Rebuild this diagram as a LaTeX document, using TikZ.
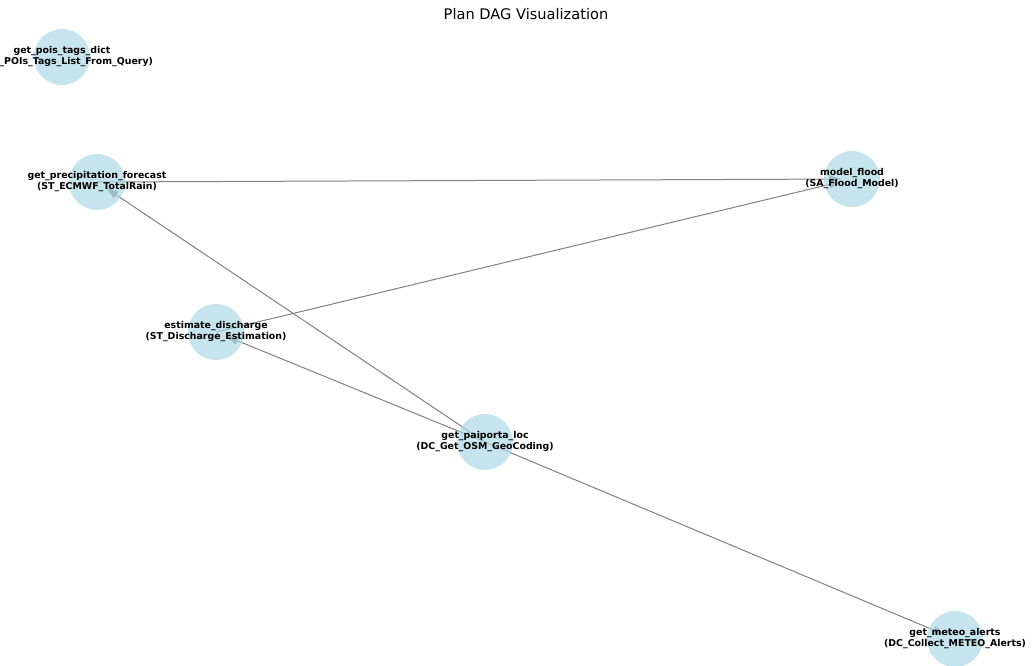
\documentclass[tikz,border=0pt]{standalone}
\usepackage{fontspec}
\setmainfont{DejaVu Sans}
\usetikzlibrary{arrows.meta}
\definecolor{nodeblue}{RGB}{173,216,230}
\definecolor{edgegray}{RGB}{128,128,128}
\tikzset{
  vtx/.style={circle, minimum size=56pt, inner sep=0pt, fill=nodeblue, fill opacity=0.7, draw=none},
  lbl/.style={align=center, inner sep=0pt, font=\fontsize{9.4}{11}\selectfont\bfseries},
  edge/.style={draw=edgegray, line width=1pt, -{Triangle[length=12pt,width=8pt,fill=edgegray]}, shorten >=11pt},
}
\begin{document}
\begin{tikzpicture}[x=1pt,y=1pt]
  \useasboundingbox (0,0) rectangle (1034,665);

  % graph positions
  \coordinate (pois)   at (62,608);
  \coordinate (precip) at (97,483);
  \coordinate (flood)  at (852,486);
  \coordinate (disch)  at (216,333);
  \coordinate (loc)    at (485,223);
  \coordinate (alerts) at (955,26);

  % title
  \node[font=\fontsize{14.6}{16}\selectfont] (title) at (526,651) {Plan DAG Visualization};

  % dependencies
  \draw[edge] (loc) -- (precip);
  \draw[edge] (loc) -- (disch);
  \draw[edge] (loc) -- (alerts);
  \draw[edge] (precip) -- (flood);
  \draw[edge] (disch) -- (flood);

  % task circles
  \node[vtx] (pois-c)   at (pois)   {};
  \node[vtx] (precip-c) at (precip) {};
  \node[vtx] (flood-c)  at (flood)  {};
  \node[vtx] (disch-c)  at (disch)  {};
  \node[vtx] (loc-c)    at (loc)    {};
  \node[vtx] (alerts-c) at (alerts) {};

  % task labels
  \node[lbl] (pois-l)   at (pois)   {get\_pois\_tags\_dict\\(OSM\_POIs\_Tags\_List\_From\_Query)};
  \node[lbl] (precip-l) at (precip) {get\_precipitation\_forecast\\(ST\_ECMWF\_TotalRain)};
  \node[lbl] (flood-l)  at (flood)  {model\_flood\\(SA\_Flood\_Model)};
  \node[lbl] (disch-l)  at (disch)  {estimate\_discharge\\(ST\_Discharge\_Estimation)};
  \node[lbl] (loc-l)    at (loc)    {get\_paiporta\_loc\\(DC\_Get\_OSM\_GeoCoding)};
  \node[lbl] (alerts-l) at (alerts) {get\_meteo\_alerts\\(DC\_Collect\_METEO\_Alerts)};
\end{tikzpicture}
\end{document}
